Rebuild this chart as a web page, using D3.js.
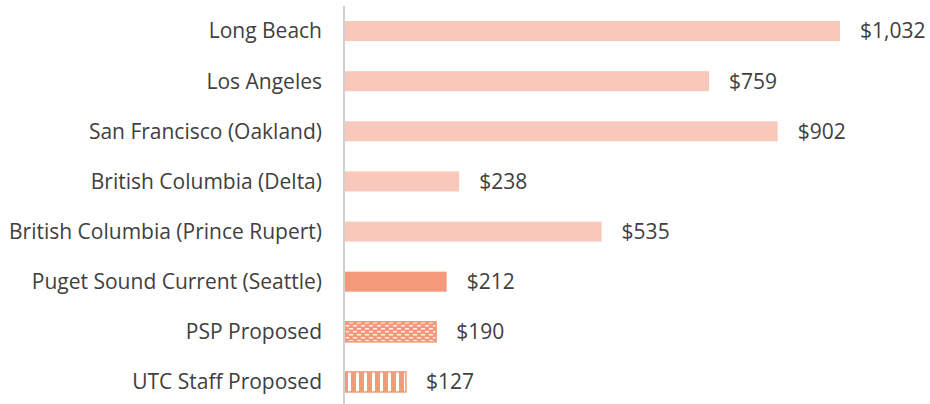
<!DOCTYPE html>
<html>
<head>
<meta charset="utf-8">
<script src="https://cdn.jsdelivr.net/npm/d3@7"></script>
<style>
  body { margin: 0; background: #fff; }
  .label { font-family: "Open Sans", "Noto Sans", sans-serif; font-size: 21px; fill: #404040; }
</style>
</head>
<body>
<div id="chart"></div>
<script>
var categories = ["Long Beach", "Los Angeles", "San Francisco (Oakland)", "British Columbia (Delta)",
    "British Columbia (Prince Rupert)", "Puget Sound Current (Seattle)", "PSP Proposed", "UTC Staff Proposed"];
var values = [1032, 759, 902, 238, 535, 212, 190, 127];
var valueLabels = ["$1,032", "$759", "$902", "$238", "$535", "$212", "$190", "$127"];
var fills = ["light", "light", "light", "light", "light", "solid", "checker", "stripes"];

var width = 930, height = 404;
var margin = {top: 6, right: 90, bottom: 0, left: 345};
var SALMON = "#F4997A";
var LIGHT = "#F8C9BA";

var svg = d3.select("#chart").append("svg")
    .attr("width", width)
    .attr("height", height);

var defs = svg.append("defs");

// dotted / checker pattern
var checker = defs.append("pattern")
    .attr("id", "checker")
    .attr("patternUnits", "userSpaceOnUse")
    .attr("width", 8)
    .attr("height", 6);
checker.append("rect").attr("width", 8).attr("height", 6).attr("fill", SALMON);
checker.append("rect").attr("x", 1).attr("y", 1).attr("width", 4).attr("height", 1.5).attr("fill", "#fff").attr("opacity", 0.85);
checker.append("rect").attr("x", 5).attr("y", 4).attr("width", 4).attr("height", 1.5).attr("fill", "#fff").attr("opacity", 0.85);
checker.append("rect").attr("x", -3).attr("y", 4).attr("width", 4).attr("height", 1.5).attr("fill", "#fff").attr("opacity", 0.85);

// vertical stripes
var stripes = defs.append("pattern")
    .attr("id", "stripes")
    .attr("patternUnits", "userSpaceOnUse")
    .attr("x", 345)
    .attr("width", 8)
    .attr("height", 8);
stripes.append("rect").attr("width", 8).attr("height", 8).attr("fill", SALMON);
stripes.append("rect").attr("x", 3).attr("width", 3).attr("height", 8).attr("fill", "#fff");

var x = d3.scaleLinear()
    .domain([0, 1032])
    .range([margin.left, 840]);

var y = d3.scaleBand()
    .domain(categories)
    .range([margin.top, 407])
    .paddingInner(0.6)
    .paddingOuter(0.3);

function fillFor(f) {
    if (f === "light") return LIGHT;
    if (f === "solid") return SALMON;
    return "url(#" + f + ")";
}

svg.selectAll(".bar")
    .data(categories)
    .enter()
    .append("rect")
    .attr("class", "bar")
    .attr("x", x(0))
    .attr("y", function(d) { return y(d); })
    .attr("width", function(d, i) { return x(values[i]) - x(0); })
    .attr("height", y.bandwidth())
    .attr("fill", function(d, i) { return fillFor(fills[i]); })
    .attr("stroke", function(d, i) { return fills[i] === "stripes" || fills[i] === "checker" ? SALMON : "none"; })
    .attr("stroke-width", 1.5);

// axis line
svg.append("line")
    .attr("x1", margin.left - 1)
    .attr("x2", margin.left - 1)
    .attr("y1", margin.top)
    .attr("y2", height)
    .attr("stroke", "#d0d0d0")
    .attr("stroke-width", 2);

svg.selectAll(".catLabel")
    .data(categories)
    .enter()
    .append("text")
    .attr("class", "label")
    .attr("x", 322)
    .attr("y", function(d) { return y(d) + y.bandwidth() / 2; })
    .attr("dy", "0.35em")
    .attr("text-anchor", "end")
    .text(function(d) { return d; });

svg.selectAll(".valLabel")
    .data(categories)
    .enter()
    .append("text")
    .attr("class", "label")
    .attr("x", function(d, i) { return x(values[i]) + 20; })
    .attr("y", function(d) { return y(d) + y.bandwidth() / 2; })
    .attr("dy", "0.35em")
    .text(function(d, i) { return valueLabels[i]; });
</script>
</body>
</html>
